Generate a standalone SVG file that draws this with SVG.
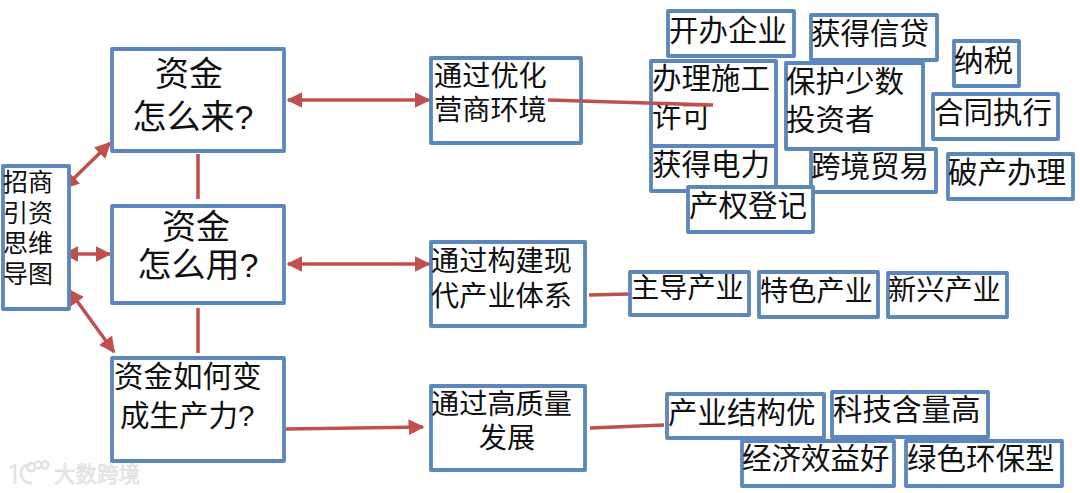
<svg xmlns="http://www.w3.org/2000/svg" width="1080" height="493" viewBox="0 0 1080 493">
<style>
.b{fill:#fff;stroke:#5b87bd;stroke-width:3.8;stroke-linejoin:round}
text{font-family:"Liberation Sans","Noto Sans CJK SC",sans-serif;fill:#111}
.t1{font-size:34px}
.t2{font-size:29.5px}
.t4{font-size:28.2px}
.t3{font-size:25px}
.c{stroke:#c0504d;stroke-width:3.5;fill:none}
.m{text-anchor:middle}
.w{font-size:21.5px;fill:#ececec;stroke:#d8d8d8;stroke-width:.5}
.l{fill:none;stroke:#e2e2e2;stroke-width:2.6}
</style>
<defs>
<marker id="a" viewBox="0 0 10 10" refX="9" refY="5" markerWidth="4.6" markerHeight="4.6" orient="auto-start-reverse"><path d="M0 0L10 5L0 10z" fill="#c0504d"/></marker>
</defs>
<g id="connectors">
<path class="c" d="M64 188L110 143" marker-start="url(#a)" marker-end="url(#a)"/>
<path class="c" d="M64 254L110 254" marker-start="url(#a)" marker-end="url(#a)"/>
<path class="c" d="M69 290L114 352" marker-start="url(#a)" marker-end="url(#a)"/>
<path class="c" d="M198 154V199M198 308V353"/>
<path class="c" d="M288 100H429" marker-start="url(#a)" marker-end="url(#a)"/>
<path class="c" d="M288 264H429" marker-start="url(#a)" marker-end="url(#a)"/>
<path class="c" d="M286 429L423 427" marker-end="url(#a)"/>
<path class="c" d="M589 295L630 294M590 428L664 425"/>
</g>
<g id="n-root"><rect class="b" x="3" y="166" width="66" height="143"/><text class="t3" x="3" y="191">招商</text><text class="t3" x="3" y="222">引资</text><text class="t3" x="3" y="252">思维</text><text class="t3" x="3" y="283">导图</text></g>
<g id="n-lai"><rect class="b" x="112" y="49" width="172" height="102"/><text class="t1 m" x="189" y="86">资金</text><text class="t1 m" x="193" y="129">怎么来?</text></g>
<g id="n-yong"><rect class="b" x="112" y="206" width="172" height="97"/><text class="t1 m" x="196" y="239">资金</text><text class="t1 m" x="198" y="277">怎么用?</text></g>
<g id="n-bian"><rect class="b" x="112" y="358" width="172" height="103"/><text class="t2" x="114" y="387">资金如何变</text><text class="t2" x="120" y="426">成生产力?</text></g>
<g id="n-yingshang"><rect class="b" x="431" y="58" width="150" height="85"/><text class="t4" x="434" y="86">通过优化</text><text class="t4" x="434" y="120">营商环境</text></g>
<g id="n-chanye"><rect class="b" x="431" y="242" width="154" height="84"/><text class="t4" x="431" y="271">通过构建现</text><text class="t4" x="431" y="306">代产业体系</text></g>
<g id="n-gaozhiliang"><rect class="b" x="431" y="386" width="154" height="84"/><text class="t4" x="431" y="414">通过高质量</text><text class="t4 m" x="507" y="448">发展</text></g>
<g id="n-kaiban"><rect class="b" x="668" y="11" width="126" height="45"/><text class="t2" x="669" y="41">开办企业</text></g>
<g id="n-xindai"><rect class="b" x="811" y="15" width="126" height="45"/><text class="t2" x="811" y="44">获得信贷</text></g>
<g id="n-nashui"><rect class="b" x="954" y="41" width="65" height="45"/><text class="t2" x="954" y="71">纳税</text></g>
<g id="n-shigong"><rect class="b" x="651" y="61" width="125" height="85"/><text class="t2" x="652" y="89">办理施工</text><text class="t2" x="652" y="127">许可</text></g>
<g id="n-touzizhe"><rect class="b" x="786" y="63" width="137" height="86"/><text class="t2" x="786" y="92">保护少数</text><text class="t2" x="786" y="130">投资者</text></g>
<g id="n-hetong"><rect class="b" x="933" y="94" width="125" height="45"/><text class="t2" x="934" y="123">合同执行</text></g>
<g id="n-dianli"><rect class="b" x="651" y="146" width="125" height="45"/><text class="t2" x="652" y="175">获得电力</text></g>
<g id="n-kuajing"><rect class="b" x="811" y="149" width="125" height="43"/><text class="t2" x="811" y="177">跨境贸易</text></g>
<g id="n-pochan"><rect class="b" x="948" y="154" width="125" height="45"/><text class="t2" x="948" y="183">破产办理</text></g>
<g id="n-chanquan"><rect class="b" x="688" y="187" width="125" height="45"/><text class="t2" x="689" y="216">产权登记</text></g>
<path class="c" d="M548 100L713 105"/>
<g id="n-zhudao"><rect class="b" x="630" y="272" width="119" height="43"/><text class="t4" x="631" y="298">主导产业</text></g>
<g id="n-tese"><rect class="b" x="759" y="272" width="119" height="45"/><text class="t4" x="760" y="301">特色产业</text></g>
<g id="n-xinxing"><rect class="b" x="888" y="273" width="119" height="44"/><text class="t4" x="888" y="300">新兴产业</text></g>
<g id="n-jiegou"><rect class="b" x="667" y="394" width="157" height="44"/><text class="t2" x="668" y="423">产业结构优</text></g>
<g id="n-keji"><rect class="b" x="832" y="392" width="156" height="45"/><text class="t2" x="833" y="420">科技含量高</text></g>
<g id="n-jingji"><rect class="b" x="742" y="441" width="152" height="45"/><text class="t2" x="742" y="469">经济效益好</text></g>
<g id="n-lvse"><rect class="b" x="906" y="441" width="156" height="45"/><text class="t2" x="907" y="469">绿色环保型</text></g>
<g id="watermark"><path class="l" d="M10 468L15 465V484M31 465C17 463 18 484 32 483"/><circle class="l" cx="31" cy="467" r="4"/><circle class="l" cx="38" cy="465" r="3.5"/><circle class="l" cx="45" cy="465" r="3.5"/><text class="w" x="54" y="482">大数跨境</text></g>
</svg>
